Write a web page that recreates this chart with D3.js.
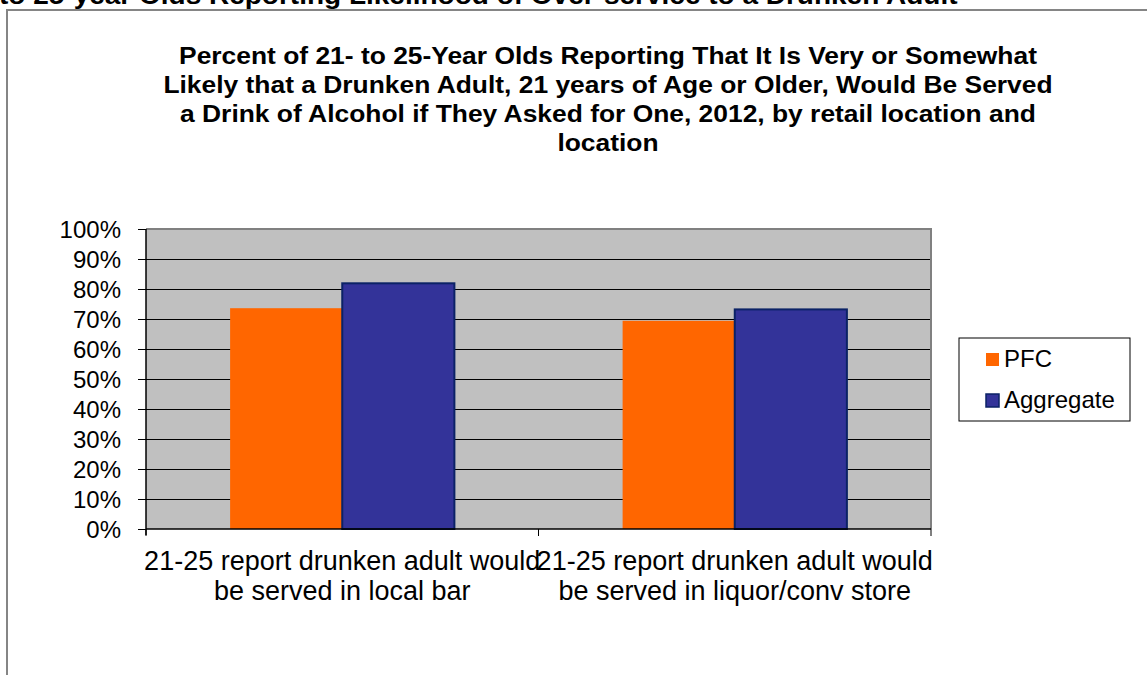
<!DOCTYPE html>
<html>
<head>
<meta charset="utf-8">
<script src="https://cdn.jsdelivr.net/npm/d3@7"></script>
<style>
  html, body { margin: 0; padding: 0; background: #fff; }
  svg { display: block; font-family: Arial, "Liberation Sans", sans-serif; }
</style>
</head>
<body>
<svg id="chart" width="1147" height="675"></svg>
<script>
// Survey results, 2012
const categories = [
  ["21-25 report drunken adult would", "be served in local bar"],
  ["21-25 report drunken adult would", "be served in liquor/conv store"]
];
const categoryKeys = ["bar", "store"];
const seriesNames = ["PFC", "Aggregate"];
const pfcValues = [0.736, 0.694];
const aggregateValues = [0.819, 0.732];
const yTicks = [0, 0.1, 0.2, 0.3, 0.4, 0.5, 0.6, 0.7, 0.8, 0.9, 1.0];
const titleLines = [
  "Percent of 21- to 25-Year Olds Reporting That It Is Very or Somewhat",
  "Likely that a Drunken Adult, 21 years of Age or Older, Would Be Served",
  "a Drink of Alcohol if They Asked for One, 2012, by retail location and",
  "location"
];
const headingText = "to 25-year Olds Reporting Likelihood of Over-service to a Drunken Adult";

const colors = { PFC: "#FF6600", Aggregate: "#333399" };
const strokes = { PFC: "none", Aggregate: "#0B2266" };

const svg = d3.select("#chart");

// Page heading (partly above the frame) and chart frame
svg.append("text")
  .attr("transform", "translate(-1,4) scale(1.12,1)")
  .attr("font-weight", "bold").attr("font-size", 25)
  .attr("fill", "#000")
  .text(headingText);

svg.append("rect")
  .attr("x", 7).attr("y", 10)
  .attr("width", 1300).attr("height", 1000)
  .attr("fill", "#fff")
  .attr("stroke", "#858585").attr("stroke-width", 2);

// Title (slightly widened lettering)
const title = svg.append("text")
  .attr("transform", "translate(608,0) scale(1.1,1)")
  .attr("text-anchor", "middle")
  .attr("font-weight", "bold").attr("font-size", 24)
  .attr("fill", "#000");
titleLines.forEach((line, i) => {
  title.append("tspan").attr("x", 0).attr("y", 64 + i * 29).text(line);
});

// Plot area
const plot = { left: 146, right: 931, top: 229, bottom: 529 };

const y = d3.scaleLinear().domain([0, 1]).range([plot.bottom, plot.top]);
const x0 = d3.scaleBand().domain(categoryKeys).range([plot.left, plot.right]).padding(0);
const x1 = d3.scaleBand().domain(seriesNames).range([0, x0.bandwidth()])
  .paddingInner(0).paddingOuter(0.75);

svg.append("rect")
  .attr("x", plot.left).attr("y", plot.top)
  .attr("width", plot.right - plot.left).attr("height", plot.bottom - plot.top)
  .attr("fill", "#C0C0C0");

// Gridlines
svg.append("g")
  .selectAll("line")
  .data(yTicks.filter(t => t > 0 && t < 1))
  .join("line")
  .attr("x1", plot.left).attr("x2", plot.right)
  .attr("y1", d => Math.round(y(d)) + 0.5).attr("y2", d => Math.round(y(d)) + 0.5)
  .attr("stroke", "#000").attr("stroke-width", 1);

// Plot border (top and right)
svg.append("path")
  .attr("d", `M${plot.left},${plot.top} H${plot.right} V${plot.bottom}`)
  .attr("fill", "none").attr("stroke", "#808080").attr("stroke-width", 2);

// Bars
const rows = categoryKeys.map((k, i) => ({
  key: k,
  values: [
    { name: "PFC", value: pfcValues[i] },
    { name: "Aggregate", value: aggregateValues[i] }
  ]
}));

svg.append("g")
  .selectAll("g")
  .data(rows)
  .join("g")
  .attr("transform", d => `translate(${x0(d.key)},0)`)
  .selectAll("rect")
  .data(d => d.values)
  .join("rect")
  .attr("x", d => x1(d.name))
  .attr("y", d => y(d.value))
  .attr("width", x1.bandwidth())
  .attr("height", d => y(0) - y(d.value))
  .attr("fill", d => colors[d.name])
  .attr("stroke", d => strokes[d.name])
  .attr("stroke-width", 2);

// Y axis
const yAxis = d3.axisLeft(y)
  .tickValues(yTicks)
  .tickFormat(d3.format(".0%"))
  .tickSize(8)
  .tickPadding(17);
const gy = svg.append("g")
  .attr("transform", `translate(${plot.left},0)`)
  .call(yAxis);
gy.select(".domain").attr("stroke", "#000").attr("stroke-width", 1.5)
  .attr("d", `M0,${plot.top}V${plot.bottom + 6}`);
gy.selectAll(".tick line").attr("stroke", "#000");
gy.selectAll(".tick text")
  .attr("font-size", 24).attr("fill", "#000")
  .attr("font-family", "Arial, 'Liberation Sans', sans-serif")
  .attr("dy", "0.35em");

// X axis: baseline and category-boundary ticks
const boundaries = [plot.left, ...categoryKeys.map(k => x0(k) + x0.bandwidth())];
svg.append("line")
  .attr("x1", plot.left).attr("x2", plot.right)
  .attr("y1", plot.bottom).attr("y2", plot.bottom)
  .attr("stroke", "#000").attr("stroke-width", 1.5);
svg.append("g").selectAll("line")
  .data(boundaries)
  .join("line")
  .attr("x1", d => d).attr("x2", d => d)
  .attr("y1", plot.bottom).attr("y2", plot.bottom + 7)
  .attr("stroke", "#000").attr("stroke-width", 1);

// Category labels
const catLabels = svg.append("g")
  .attr("font-size", 27).attr("fill", "#000").attr("text-anchor", "middle");
categoryKeys.forEach((k, i) => {
  const t = catLabels.append("text");
  categories[i].forEach((line, j) => {
    t.append("tspan")
      .attr("x", x0(k) + x0.bandwidth() / 2)
      .attr("y", 570 + j * 30)
      .text(line);
  });
});

// Legend
const legend = svg.append("g").attr("transform", "translate(959,338)");
legend.append("rect")
  .attr("x", 0).attr("y", 0).attr("width", 171).attr("height", 83)
  .attr("fill", "#fff").attr("stroke", "#000").attr("stroke-width", 1);
seriesNames.forEach((name, i) => {
  const g = legend.append("g").attr("transform", `translate(0,${i * 41})`);
  g.append("rect")
    .attr("x", 27).attr("y", 15).attr("width", 13).attr("height", 13)
    .attr("fill", colors[name])
    .attr("stroke", name === "Aggregate" ? strokes[name] : "none")
    .attr("stroke-width", 1.5);
  g.append("text")
    .attr("x", 45).attr("y", 29)
    .attr("font-size", 24).attr("fill", "#000")
    .text(name);
});
</script>
</body>
</html>
